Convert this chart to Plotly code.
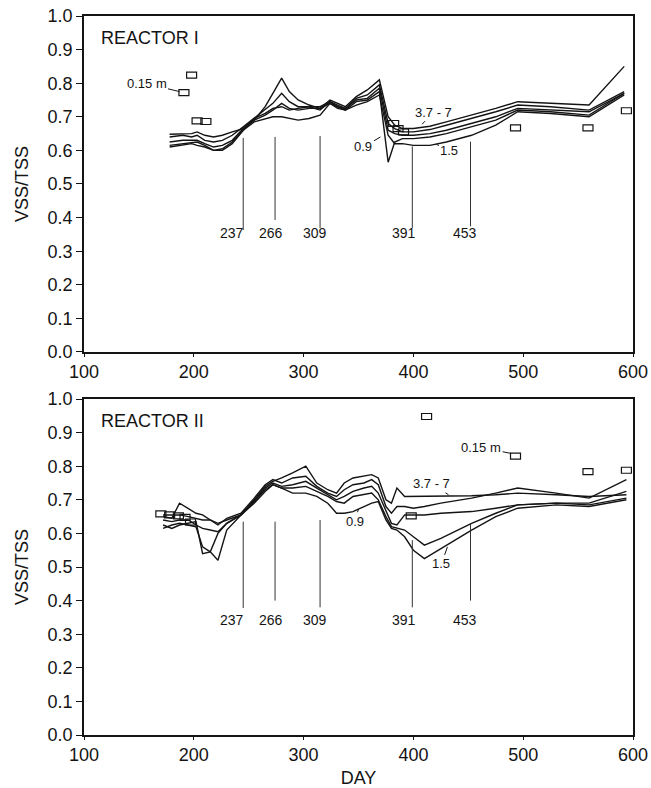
import plotly.graph_objects as go

# ---------------- data ----------------
DAYS_R1 = [178, 190, 198, 203, 210, 218, 226, 235, 245, 255, 265, 272, 280, 287, 295,
           305, 315, 324, 331, 338, 348, 358, 369, 377, 383, 390, 400, 415, 430, 453,
           475, 495, 525, 560, 592]
R1_A = [0.648, 0.650, 0.650, 0.655, 0.645, 0.640, 0.645, 0.655, 0.665, 0.690, 0.730, 0.770, 0.815, 0.775, 0.750,
        0.735, 0.725, 0.750, 0.740, 0.730, 0.760, 0.780, 0.810, 0.700, 0.675, 0.665, 0.665, 0.672, 0.685, 0.705,
        0.725, 0.745, 0.740, 0.735, 0.850]
R1_B = [0.640, 0.645, 0.640, 0.645, 0.630, 0.625, 0.630, 0.645, 0.670, 0.695, 0.720, 0.740, 0.770, 0.745, 0.730,
        0.730, 0.720, 0.745, 0.735, 0.725, 0.755, 0.765, 0.795, 0.680, 0.665, 0.655, 0.655, 0.662, 0.675, 0.695,
        0.715, 0.735, 0.730, 0.720, 0.775]
R1_C = [0.625, 0.630, 0.630, 0.630, 0.620, 0.610, 0.615, 0.630, 0.665, 0.690, 0.705, 0.720, 0.740, 0.725, 0.720,
        0.725, 0.725, 0.740, 0.730, 0.725, 0.750, 0.755, 0.785, 0.660, 0.650, 0.645, 0.645, 0.650, 0.660, 0.680,
        0.700, 0.725, 0.720, 0.715, 0.770]
R1_D = [0.615, 0.620, 0.625, 0.625, 0.615, 0.600, 0.600, 0.620, 0.660, 0.695, 0.710, 0.725, 0.730, 0.720, 0.725,
        0.730, 0.730, 0.745, 0.730, 0.720, 0.745, 0.750, 0.775, 0.565, 0.625, 0.635, 0.635, 0.640, 0.650, 0.670,
        0.690, 0.720, 0.715, 0.705, 0.770]
R1_E = [0.610, 0.615, 0.620, 0.615, 0.610, 0.600, 0.605, 0.625, 0.660, 0.685, 0.695, 0.700, 0.700, 0.695, 0.690,
        0.695, 0.705, 0.740, 0.725, 0.720, 0.735, 0.745, 0.765, 0.645, 0.620, 0.620, 0.615, 0.615, 0.625, 0.645,
        0.675, 0.715, 0.710, 0.700, 0.765]

DAYS_R2 = [172, 180, 187, 195, 202, 208, 215, 222, 230, 243, 255, 265, 272, 280, 290, 302, 312, 322, 330,
           337, 345, 355, 362, 368, 375, 380, 385, 392, 400, 410, 425, 453, 475, 495, 530, 560, 594]
R2_A = [0.655, 0.655, 0.655, 0.650, 0.645, 0.640, 0.640, 0.630, 0.640, 0.655, 0.700, 0.740, 0.755, 0.765, 0.780,
        0.800, 0.750, 0.730, 0.720, 0.750, 0.765, 0.770, 0.775, 0.765, 0.700, 0.690, 0.735, 0.710, 0.710, 0.710,
        0.710, 0.712, 0.715, 0.720, 0.715, 0.710, 0.715]
R2_B = [0.650, 0.645, 0.690, 0.675, 0.660, 0.655, 0.640, 0.625, 0.645, 0.660, 0.705, 0.745, 0.760, 0.750, 0.765,
        0.770, 0.740, 0.720, 0.710, 0.730, 0.745, 0.750, 0.760, 0.745, 0.680, 0.660, 0.680, 0.680, 0.675, 0.680,
        0.690, 0.705, 0.720, 0.735, 0.720, 0.705, 0.760]
R2_C = [0.640, 0.635, 0.640, 0.640, 0.625, 0.615, 0.610, 0.605, 0.630, 0.655, 0.695, 0.735, 0.750, 0.740, 0.745,
        0.755, 0.735, 0.715, 0.700, 0.710, 0.725, 0.735, 0.740, 0.720, 0.670, 0.630, 0.625, 0.655, 0.655, 0.655,
        0.660, 0.665, 0.675, 0.685, 0.690, 0.690, 0.725]
R2_D = [0.625, 0.615, 0.625, 0.630, 0.635, 0.540, 0.545, 0.600, 0.630, 0.655, 0.695, 0.730, 0.745, 0.735, 0.735,
        0.740, 0.725, 0.710, 0.695, 0.690, 0.710, 0.715, 0.720, 0.700, 0.650, 0.620, 0.615, 0.610, 0.590, 0.565,
        0.585, 0.630, 0.660, 0.685, 0.690, 0.685, 0.705]
R2_E = [0.615, 0.625, 0.630, 0.625, 0.620, 0.560, 0.545, 0.520, 0.610, 0.655, 0.690, 0.725, 0.745, 0.735, 0.720,
        0.720, 0.710, 0.690, 0.660, 0.660, 0.665, 0.680, 0.690, 0.695, 0.640, 0.615, 0.610, 0.590, 0.550, 0.525,
        0.555, 0.610, 0.650, 0.675, 0.685, 0.680, 0.700]

# 0.15 m sample points (open boxes)
BOX_R1_DAYS = [191, 198, 203, 211, 382, 386, 391, 493, 559, 594]
BOX_R1_VALS = [0.772, 0.824, 0.688, 0.686, 0.680, 0.665, 0.655, 0.667, 0.667, 0.718]
BOX_R2_DAYS = [170, 178, 186, 192, 197, 398, 412, 493, 559, 594]
BOX_R2_VALS = [0.658, 0.655, 0.652, 0.648, 0.634, 0.652, 0.948, 0.830, 0.784, 0.788]

# operational events
EVENT_LINE_DAYS = [245, 274, 315, 399, 452]
EVENT_LABELS = ["237", "266", "309", "391", "453"]
EVENT_LABEL_DAYS = [235, 270, 310, 391, 447]
EVENT_R1_TOP = [0.637, 0.640, 0.643, 0.612, 0.626]
EVENT_R1_BOT = [0.363, 0.393, 0.369, 0.369, 0.374]
EVENT_R2_TOP = [0.635, 0.635, 0.640, 0.580, 0.630]
EVENT_R2_BOT = [0.378, 0.400, 0.380, 0.380, 0.400]

X_TICKS = [100, 200, 300, 400, 500, 600]
Y_TICKS = [0.0, 0.1, 0.2, 0.3, 0.4, 0.5, 0.6, 0.7, 0.8, 0.9, 1.0]

# ---------------- figure ----------------
FONT = "Liberation Sans, Arial, sans-serif"
NARROW = "Liberation Sans Narrow, Liberation Sans, Arial, sans-serif"
INK = "#141414"

fig = go.Figure()

def add_series(days, series, xa, ya):
    for ys in series:
        fig.add_trace(go.Scatter(x=days, y=ys, mode="lines", xaxis=xa, yaxis=ya,
                                 line=dict(color=INK, width=1.4), showlegend=False,
                                 hoverinfo="skip"))

def add_events(tops, bots, xa, ya):
    xs, ys = [], []
    for d, t, b in zip(EVENT_LINE_DAYS, tops, bots):
        xs += [d, d, None]
        ys += [b, t, None]
    fig.add_trace(go.Scatter(x=xs, y=ys, mode="lines", xaxis=xa, yaxis=ya,
                             line=dict(color="#333333", width=1), showlegend=False,
                             hoverinfo="skip"))

add_series(DAYS_R1, [R1_A, R1_B, R1_C, R1_D, R1_E], "x", "y")
add_series(DAYS_R2, [R2_A, R2_B, R2_C, R2_D, R2_E], "x2", "y2")
add_events(EVENT_R1_TOP, EVENT_R1_BOT, "x", "y")
add_events(EVENT_R2_TOP, EVENT_R2_BOT, "x2", "y2")

shapes = []
for days, vals, xr, yr in [(BOX_R1_DAYS, BOX_R1_VALS, "x", "y"),
                           (BOX_R2_DAYS, BOX_R2_VALS, "x2", "y2")]:
    for d, v in zip(days, vals):
        shapes.append(dict(type="rect", xref=xr, yref=yr,
                           xsizemode="pixel", ysizemode="pixel",
                           xanchor=d, yanchor=v, x0=-5, x1=5, y0=-3, y1=3,
                           line=dict(color=INK, width=1.2), fillcolor="rgba(0,0,0,0)"))

annotations = []
# event labels
for lab, d in zip(EVENT_LABELS, EVENT_LABEL_DAYS):
    annotations.append(dict(x=d, y=0.354, xref="x", yref="y", text=lab, showarrow=False,
                            font=dict(family=NARROW, size=14, color=INK)))
    annotations.append(dict(x=d, y=0.343, xref="x2", yref="y2", text=lab, showarrow=False,
                            font=dict(family=NARROW, size=14, color=INK)))

def lead(text, x, y, ax, ay, xr, yr):
    annotations.append(dict(x=x, y=y, xref=xr, yref=yr, text=text, showarrow=True,
                            arrowhead=0, arrowwidth=1, arrowcolor=INK, ax=ax, ay=ay,
                            standoff=0, font=dict(family=NARROW, size=13, color=INK)))

# reactor I labels
lead("0.15 m", 187, 0.775, -33, -8, "x", "y")
lead("0.9", 370, 0.640, -17, 10, "x", "y")
lead("3.7 - 7", 408, 0.678, 11, -12, "x", "y")
lead("1.5", 421, 0.618, 13, 6, "x", "y")
# reactor II labels
lead("0.15 m", 489, 0.838, -30, -6, "x2", "y2")
lead("3.7 - 7", 432, 0.715, -17, -11, "x2", "y2")
lead("0.9", 350, 0.672, -4, 12, "x2", "y2")
lead("1.5", 431, 0.560, -6, 17, "x2", "y2")

annotations.append(dict(x=114, y=0.934, xref="x", yref="y", text="REACTOR I", showarrow=False,
                        xanchor="left", font=dict(family=FONT, size=18, color=INK)))
annotations.append(dict(x=114, y=0.934, xref="x2", yref="y2", text="REACTOR II", showarrow=False,
                        xanchor="left", font=dict(family=FONT, size=18, color=INK)))

axis_common = dict(showline=True, linecolor=INK, linewidth=1.5, mirror=True,
                   showgrid=False, zeroline=False, ticks="outside", tickcolor=INK,
                   automargin=False,
                   tickfont=dict(family=FONT, size=18, color=INK))

fig.update_layout(
    width=651, height=788,
    margin=dict(l=84, r=18, t=16, b=53),
    paper_bgcolor="white", plot_bgcolor="white",
    showlegend=False,
    xaxis=dict(axis_common, range=[100, 600], tickvals=X_TICKS, ticklen=3,
               anchor="y"),
    yaxis=dict(axis_common, range=[0, 1], tickvals=Y_TICKS, tickformat=".1f", ticklen=6,
               domain=[0.5327, 1.0], anchor="x",
               title=dict(text="VSS/TSS", standoff=14, font=dict(family=FONT, size=18, color=INK))),
    xaxis2=dict(axis_common, range=[100, 600], tickvals=X_TICKS, ticklen=3, anchor="y2",
                title=dict(text="DAY", standoff=8, font=dict(family=FONT, size=18, color=INK))),
    yaxis2=dict(axis_common, range=[0, 1], tickvals=Y_TICKS, tickformat=".1f", ticklen=6,
                domain=[0.0, 0.4673], anchor="x2",
                title=dict(text="VSS/TSS", standoff=14, font=dict(family=FONT, size=18, color=INK))),
    shapes=shapes,
    annotations=annotations,
)

fig.write_html("out.html")
